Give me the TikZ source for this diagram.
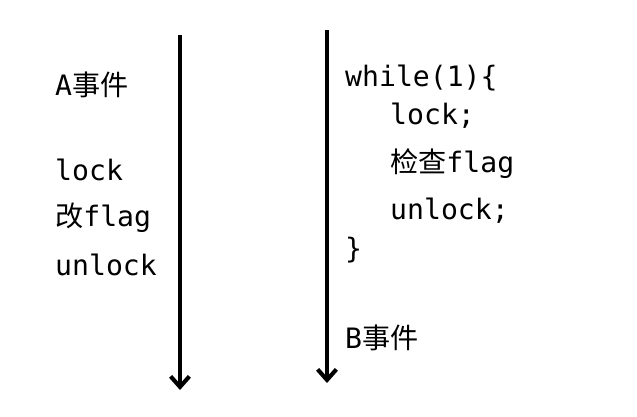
\documentclass[tikz,border=0pt]{standalone}
\usepackage{fontspec}
\setmonofont{DejaVu Sans Mono}
\newfontfamily\cjk{Noto Sans CJK SC}
\usetikzlibrary{arrows.meta}
\tikzset{
  txt/.style={anchor=west, inner sep=0pt, font=\fontsize{24}{24}\selectfont\ttfamily},
  timeline/.style={line width=3.5pt, -{Straight Barb[length=9pt,width=16pt,line width=3.5pt]}}
}
\begin{document}
\begin{tikzpicture}[x=0.03cm, y=-0.03cm]
  \useasboundingbox (0,0) rectangle (637,417);

  \coordinate (atop) at (180,35);
  \coordinate (abot) at (180,390);
  \coordinate (btop) at (327,30);
  \coordinate (bbot) at (327,383);
  \draw[timeline] (atop) -- (abot);
  \draw[timeline] (btop) -- (bbot);

  \node[txt] (aev) at (55,85) {A{\cjk 事件}};
  \node[txt] (alock) at (55,170) {lock};
  \node[txt] (aflag) at (55,218) {{\cjk 改}flag};
  \node[txt] (aunlock) at (55,265) {unlock};

  \node[txt] (bwhile) at (345,78) {while(1)\{};
  \node[txt] (block) at (390,116) {lock;};
  \node[txt] (bflag) at (390,164) {{\cjk 检查}flag};
  \node[txt] (bunlock) at (390,211) {unlock;};
  \node[txt] (bend) at (345,250) {\}};
  \node[txt] (bev) at (345,338) {B{\cjk 事件}};
\end{tikzpicture}
\end{document}
